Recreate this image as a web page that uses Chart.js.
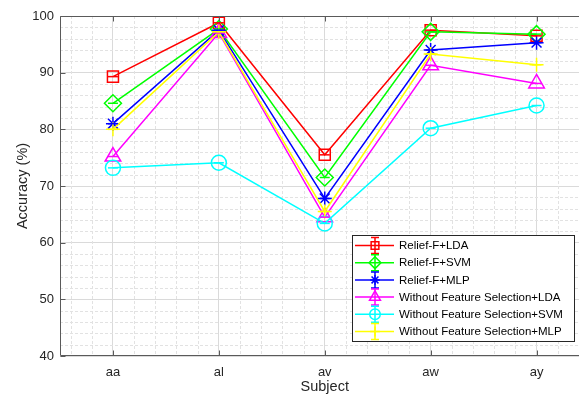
<!DOCTYPE html>
<html>
<head>
<meta charset="utf-8">
<script src="https://cdn.jsdelivr.net/npm/chart.js@4/dist/chart.umd.min.js"></script>
<style>
  html, body { margin: 0; padding: 0; background: #fff; overflow: hidden; }
  #wrap { width: 600px; height: 398px; }
</style>
</head>
<body>
<div id="wrap"><canvas id="chart" width="600" height="398"></canvas></div>
<script>
const subjects = ["aa", "al", "av", "aw", "ay"];
const reliefLda = [89.3, 98.8, 75.5, 97.5, 96.5];
const reliefSvm = [84.6, 97.7, 71.5, 97.2, 96.8];
const reliefMlp = [81.0, 97.5, 67.8, 94.0, 95.3];
const noFsLda = [75.2, 97.0, 64.5, 91.3, 88.1];
const noFsSvm = [73.2, 74.1, 63.4, 80.2, 84.2];
const noFsMlp = [80.0, 97.2, 65.5, 93.3, 91.4];
const seriesNames = [
  "Relief-F+LDA", "Relief-F+SVM", "Relief-F+MLP",
  "Without Feature Selection+LDA", "Without Feature Selection+SVM", "Without Feature Selection+MLP"
];
const yMin = 40, yMax = 100, yStep = 10;

const FONT = "'Liberation Sans', Arial, Helvetica, sans-serif";
const TEXT = "#262626";

const looks = [
  { color: "#ff0000", style: "rect", r: 7.8 },
  { color: "#00ff00", style: "rectRot", r: 8.5 },
  { color: "#0000ff", style: "star", r: 7 },
  { color: "#ff00ff", style: "triangle", r: 9 },
  { color: "#00ffff", style: "circle", r: 7.5 },
  { color: "#ffff00", style: "cross", r: 7 }
];

const allSeries = [reliefLda, reliefSvm, reliefMlp, noFsLda, noFsSvm, noFsMlp];

function drawMarker(ctx, look, x, y, scale) {
  ctx.save();
  ctx.strokeStyle = look.color;
  ctx.fillStyle = "rgba(0,0,0,0)";
  ctx.lineWidth = 1.5;
  Chart.helpers.drawPoint(ctx, { pointStyle: look.style, radius: look.r * scale, rotation: 0, borderWidth: 1.5 }, x, y);
  ctx.restore();
}

// zero-length error bars show up as a short dash inside each marker
const errorStubs = {
  id: "errorStubs",
  afterDatasetsDraw(chart) {
    const ctx = chart.ctx;
    chart.data.datasets.forEach((ds, i) => {
      chart.getDatasetMeta(i).data.forEach((pt) => {
        ctx.save();
        ctx.strokeStyle = ds.borderColor;
        ctx.lineWidth = 1.5;
        ctx.beginPath();
        ctx.moveTo(pt.x - 5, pt.y);
        ctx.lineTo(pt.x + 5, pt.y);
        ctx.stroke();
        ctx.restore();
      });
    });
  }
};

const minorGrid = {
  id: "minorGrid",
  beforeDatasetsDraw(chart) {
    const { ctx, chartArea: a, scales: { x, y } } = chart;
    ctx.save();
    ctx.strokeStyle = "#e2e2e2";
    ctx.lineWidth = 1;
    ctx.setLineDash([3, 2]);
    for (let k = 3; k <= 27; k++) {
      if (k % 5 === 0) continue;
      const px = Math.round(x.getPixelForValue(k / 5)) + 0.5;
      ctx.beginPath(); ctx.moveTo(px, a.top); ctx.lineTo(px, a.bottom); ctx.stroke();
    }
    for (let v = yMin + 2; v < yMax; v += 2) {
      if (v % yStep === 0) continue;
      const py = Math.round(y.getPixelForValue(v)) + 0.5;
      ctx.beginPath(); ctx.moveTo(a.left, py); ctx.lineTo(a.right, py); ctx.stroke();
    }
    ctx.restore();
  }
};

const axesBox = {
  id: "axesBox",
  afterDraw(chart) {
    const { ctx, chartArea: a, scales: { x, y } } = chart;
    ctx.save();
    ctx.strokeStyle = "#5a5a5a";
    ctx.lineWidth = 1;
    const L = Math.round(a.left) + 0.5, T = Math.round(a.top) + 0.5, B = Math.round(a.bottom) - 0.5, R = Math.round(a.right) - 0.5;
    ctx.beginPath();
    ctx.moveTo(L, T); ctx.lineTo(R, T);
    ctx.moveTo(L, T); ctx.lineTo(L, B); ctx.lineTo(R, B); ctx.lineTo(R, T);
    subjects.forEach((s, i) => {
      const px = Math.round(x.getPixelForValue(i + 1)) + 0.5;
      ctx.moveTo(px, B); ctx.lineTo(px, B - 5);
      ctx.moveTo(px, T); ctx.lineTo(px, T + 5);
    });
    for (let v = yMin; v <= yMax; v += yStep) {
      const py = Math.round(y.getPixelForValue(v)) + 0.5;
      ctx.moveTo(L, py); ctx.lineTo(L + 5, py);
    }
    ctx.stroke();

    // legend
    const bx = 352.5, by = 235.5, bw = 222, bh = 106;
    ctx.fillStyle = "#fff";
    ctx.fillRect(bx, by, bw, bh);
    ctx.strokeStyle = "#262626";
    ctx.strokeRect(bx, by, bw, bh);
    ctx.font = "11.5px " + FONT;
    ctx.textBaseline = "middle";
    ctx.textAlign = "left";
    seriesNames.forEach((name, i) => {
      const look = looks[i];
      const ry = 245.5 + i * 17.2;
      ctx.strokeStyle = look.color;
      ctx.lineWidth = 1.5;
      ctx.beginPath();
      ctx.moveTo(355, ry); ctx.lineTo(394, ry);
      ctx.moveTo(375, ry - 8); ctx.lineTo(375, ry + 8);
      ctx.moveTo(371, ry - 8); ctx.lineTo(379, ry - 8);
      ctx.moveTo(371, ry + 8); ctx.lineTo(379, ry + 8);
      ctx.stroke();
      drawMarker(ctx, look, 375, ry, 0.7);
      ctx.fillStyle = "#000";
      ctx.fillText(name, 399, ry + 0.5);
    });
    ctx.restore();
  }
};

const datasets = allSeries.map((vals, i) => ({
  label: seriesNames[i],
  data: vals.map((v, j) => ({ x: j + 1, y: v })),
  borderColor: looks[i].color,
  backgroundColor: "rgba(0,0,0,0)",
  borderWidth: 1.5,
  pointStyle: looks[i].style,
  pointRadius: looks[i].r,
  pointBorderWidth: 1.5,
  pointBackgroundColor: "rgba(0,0,0,0)",
  pointBorderColor: looks[i].color,
  tension: 0,
  order: allSeries.length - i
}));

new Chart(document.getElementById("chart"), {
  type: "line",
  data: { datasets },
  plugins: [minorGrid, errorStubs, axesBox],
  options: {
    responsive: false,
    animation: false,
    layout: { padding: { left: 0, right: 3, top: 16, bottom: 0 } },
    plugins: { legend: { display: false }, tooltip: { enabled: false } },
    scales: {
      x: {
        type: "linear",
        min: 0.5,
        max: 5.5,
        afterBuildTicks: (s) => { s.ticks = subjects.map((_, i) => ({ value: i + 1 })); },
        afterFit: (s) => { s.height = 42; },
        grid: { color: "#dadada", drawTicks: false },
        border: { display: false },
        ticks: {
          autoSkip: false, maxRotation: 0, padding: 9, color: TEXT,
          font: { family: FONT, size: 13 },
          callback: (v) => subjects[v - 1] || ""
        },
        title: { display: true, text: "Subject", color: TEXT, font: { family: FONT, size: 14.5 }, padding: { top: 0, bottom: 2 } }
      },
      y: {
        min: yMin,
        max: yMax,
        afterFit: (s) => { s.width = 60; },
        grid: { color: "#dadada", drawTicks: false },
        border: { display: false },
        ticks: { stepSize: yStep, padding: 6, color: TEXT, font: { family: FONT, size: 13 } },
        title: { display: true, text: "Accuracy (%)", color: TEXT, font: { family: FONT, size: 14.5 }, padding: { top: 14, bottom: 0 } }
      }
    }
  }
});
</script>
</body>
</html>
